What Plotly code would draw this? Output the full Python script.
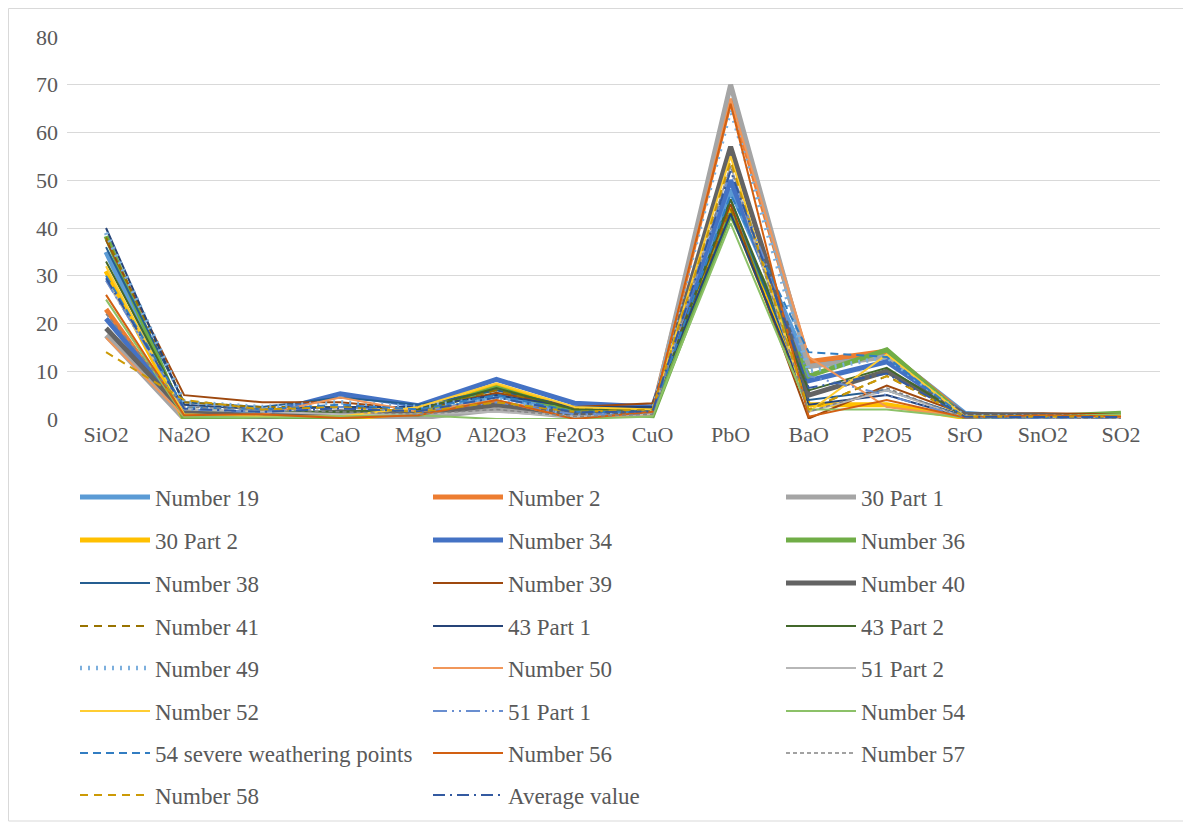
import plotly.graph_objects as go

categories = ["SiO2", "Na2O", "K2O", "CaO", "MgO", "Al2O3", "Fe2O3",
              "CuO", "PbO", "BaO", "P2O5", "SrO", "SnO2", "SO2"]

series_names = ["Number 19", "Number 2", "30 Part 1", "30 Part 2", "Number 34",
                "Number 36", "Number 38", "Number 39", "Number 40", "Number 41",
                "43 Part 1", "43 Part 2", "Number 49", "Number 50", "51 Part 2",
                "Number 52", "51 Part 1", "Number 54",
                "54 severe weathering points", "Number 56", "Number 57",
                "Number 58", "Average value"]

n19 = [35.0, 0.5, 0.4, 1.0, 0.5, 5.0, 1.0, 1.5, 48.0, 11.0, 14.0, 1.2, 0.0, 0.1]
n2 = [23.0, 0.2, 0.5, 1.2, 0.4, 3.5, 0.6, 1.5, 67.0, 12.0, 14.2, 0.8, 0.0, 0.0]
n30p1 = [17.5, 0.0, 0.1, 0.5, 0.2, 2.0, 0.5, 1.0, 70.0, 11.0, 13.0, 0.6, 0.0, 0.0]
n30p2 = [31.0, 0.0, 0.0, 0.0, 1.5, 7.0, 2.0, 1.0, 44.0, 3.0, 3.0, 0.3, 0.0, 0.0]
n34 = [21.0, 1.5, 1.0, 5.3, 2.8, 8.3, 3.3, 2.5, 50.0, 8.0, 12.0, 1.0, 0.3, 0.2]
n36 = [38.3, 0.0, 0.2, 0.3, 1.5, 6.5, 1.5, 0.7, 43.0, 9.0, 14.5, 0.3, 0.5, 1.2]
n38 = [36.0, 3.5, 2.5, 4.5, 3.0, 6.0, 2.5, 2.5, 46.0, 4.0, 6.0, 0.6, 0.3, 0.0]
n39 = [37.5, 5.0, 3.5, 3.5, 2.0, 5.5, 2.5, 3.3, 45.0, 0.1, 7.0, 1.0, 1.2, 1.0]
n40 = [19.0, 1.5, 0.5, 1.5, 1.0, 3.0, 1.0, 1.5, 57.0, 5.0, 10.0, 1.0, 0.8, 0.0]
n41 = [38.0, 3.5, 2.5, 2.5, 2.0, 6.0, 2.0, 2.5, 44.0, 2.0, 9.0, 0.5, 0.5, 0.8]
n43p1 = [40.0, 3.0, 2.0, 2.5, 2.5, 5.0, 2.5, 2.5, 43.0, 3.0, 5.0, 0.3, 0.3, 0.3]
n43p2 = [33.0, 2.0, 1.5, 1.5, 2.0, 6.5, 2.0, 2.0, 46.0, 6.0, 10.7, 0.5, 0.5, 1.0]
n49 = [39.0, 3.5, 2.5, 3.5, 2.5, 4.5, 0.5, 1.5, 65.0, 10.0, 13.0, 0.5, 0.5, 0.5]
n50 = [17.0, 0.5, 1.0, 4.5, 1.5, 4.0, 0.0, 1.0, 67.0, 13.0, 2.5, 0.5, 0.3, 0.3]
n51p2 = [29.0, 2.0, 1.5, 1.0, 1.0, 1.5, 0.5, 1.0, 53.0, 1.5, 6.0, 0.3, 0.3, 0.0]
n52 = [32.0, 1.0, 0.5, 0.5, 2.5, 7.5, 2.5, 2.0, 55.0, 1.5, 13.5, 0.5, 0.5, 0.8]
n51p1 = [29.0, 2.0, 1.5, 2.5, 1.5, 3.5, 1.0, 1.0, 52.0, 9.0, 5.0, 0.3, 0.0, 0.0]
n54 = [25.0, 0.5, 0.3, 0.5, 0.8, 0.0, 0.0, 0.5, 41.0, 2.0, 2.0, 0.3, 0.5, 1.0]
n54s = [30.0, 2.5, 2.0, 3.0, 2.0, 5.0, 1.5, 1.5, 47.0, 14.0, 13.0, 0.3, 0.3, 0.3]
n56 = [26.0, 0.8, 1.0, 0.2, 0.8, 4.0, 0.0, 1.5, 66.0, 0.5, 4.0, 0.3, 0.8, 0.5]
n57 = [22.0, 2.5, 2.0, 1.5, 1.0, 2.0, 0.5, 1.0, 53.0, 1.5, 6.5, 0.3, 0.3, 0.0]
n58 = [14.0, 4.0, 2.0, 2.5, 1.5, 3.5, 1.5, 2.0, 54.0, 2.0, 9.0, 0.5, 0.5, 0.5]
avg = [29.5, 2.2, 1.5, 2.2, 1.6, 4.5, 1.4, 1.6, 52.0, 6.5, 9.5, 0.5, 0.4, 0.4]

y_ticks = [0, 10, 20, 30, 40, 50, 60, 70, 80]

values = [n19, n2, n30p1, n30p2, n34, n36, n38, n39, n40, n41, n43p1, n43p2,
          n49, n50, n51p2, n52, n51p1, n54, n54s, n56, n57, n58, avg]

colors = ["#5B9BD5", "#ED7D31", "#A5A5A5", "#FFC000", "#4472C4", "#70AD47",
          "#255E91", "#9E480E", "#636363", "#997300", "#264478", "#43682B",
          "#7CAFDD", "#F1975A", "#B7B7B7", "#FFCD33", "#698ED0", "#8CC168",
          "#327DC2", "#D26012", "#848484", "#CC9A06", "#335AA1"]

widths = [5, 5, 5, 5, 5, 5, 2, 2, 5, 2, 2, 2,
          4.5, 2, 2, 2, 2, 2, 2, 2, 1.5, 2, 2]

dashes = ["solid"] * 9 + ["8px,6px", "solid", "solid", "2px,6px", "solid", "solid",
          "solid", "14px,5px,2px,5px,2px,5px", "solid", "8px,5px", "solid",
          "4px,3px", "8px,6px", "12px,5px,2px,5px"]

FONT = "Liberation Serif"
TXT = "#595959"

# the page body adds an 8px offset; work in figure coordinates
OFF = 8
W, H = 1191 - OFF, 823 - OFF
plot_l, plot_r = 67 - OFF, 1160 - OFF
plot_top, plot_bottom = 37 - OFF, 419 - OFF
plot_w = plot_r - plot_l
plot_h = plot_bottom - plot_top
row_pix = [p - OFF for p in [497, 540, 583, 626, 668, 711, 753, 795]]

fig = go.Figure()

for i, (name, vals) in enumerate(zip(series_names, values)):
    row = i // 3
    lg = "legend" if row == 0 else f"legend{row + 1}"
    fig.add_trace(go.Scatter(
        x=categories, y=vals, name=name, mode="lines",
        line=dict(color=colors[i], width=widths[i], dash=dashes[i]),
        legend=lg, hoverinfo="name+y"))

legend_common = dict(
    orientation="h", x=8 / plot_w, xanchor="left", yanchor="middle",
    entrywidth=268, itemwidth=70, bgcolor="rgba(0,0,0,0)",
    font=dict(family=FONT, size=23, color=TXT),
    traceorder="normal", itemclick=False, itemdoubleclick=False)

layout_legends = {}
for r, py in enumerate(row_pix):
    key = "legend" if r == 0 else f"legend{r + 1}"
    layout_legends[key] = dict(legend_common, y=(plot_bottom - py) / plot_h)

fig.update_layout(
    width=W, height=H,
    margin=dict(l=plot_l, r=W - plot_r, t=plot_top, b=H - plot_bottom,
                autoexpand=False),
    paper_bgcolor="white", plot_bgcolor="white",
    font=dict(family=FONT, size=22, color=TXT),
    xaxis=dict(type="category", range=[-0.5, len(categories) - 0.5],
               showgrid=False, showline=False, zeroline=False, ticks="",
               automargin=False,
               tickfont=dict(family=FONT, size=22, color=TXT)),
    yaxis=dict(range=[0, 80], tickvals=y_ticks, showgrid=True,
               gridcolor="#D9D9D9", gridwidth=1.3, zeroline=False,
               showline=False, ticks="", ticklabelstandoff=8, automargin=False,
               tickfont=dict(family=FONT, size=22, color=TXT)),
    showlegend=True,
    **layout_legends,
)

fig.add_shape(type="rect", xref="paper", yref="paper",
              x0=(0.5 - plot_l) / plot_w, x1=(W - 2 - plot_l) / plot_w,
              y0=(plot_bottom - (H - 2)) / plot_h, y1=(plot_bottom - 0.5) / plot_h,
              line=dict(color="#D9D9D9", width=1), layer="below")

fig.write_html("out.html")
